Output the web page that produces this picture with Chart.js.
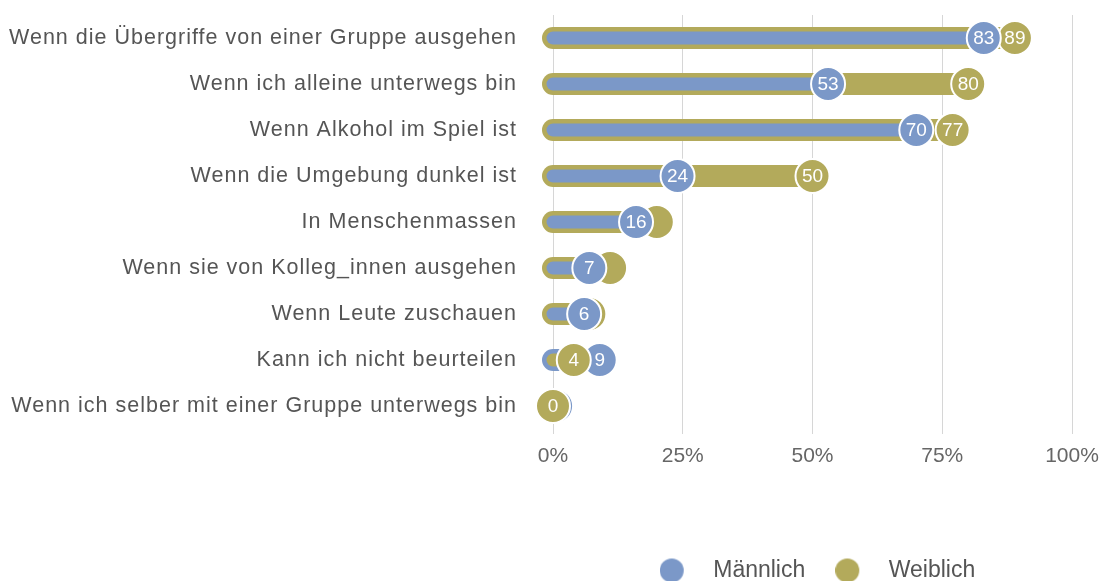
<!DOCTYPE html>
<html><head><meta charset="utf-8">
<script src="https://cdn.jsdelivr.net/npm/chart.js@4.4.1/dist/chart.umd.min.js"></script>
<style>html,body{margin:0;padding:0;background:#fff}#wrap{width:1111px;height:581px;position:relative}</style>
</head><body><div id="wrap"><canvas id="c"></canvas></div>
<script>
// ---- data ----
const categories = [
  'Wenn die Übergriffe von einer Gruppe ausgehen',
  'Wenn ich alleine unterwegs bin',
  'Wenn Alkohol im Spiel ist',
  'Wenn die Umgebung dunkel ist',
  'In Menschenmassen',
  'Wenn sie von Kolleg_innen ausgehen',
  'Wenn Leute zuschauen',
  'Kann ich nicht beurteilen',
  'Wenn ich selber mit einer Gruppe unterwegs bin'
];
const seriesNames = ['Männlich', 'Weiblich'];
const maleValues   = [83, 53, 70, 24, 16, 7, 6, 9, 0.6];
const femaleValues = [89, 80, 77, 50, 20, 11, 7, 4, 0];
const xTicks = [0, 25, 50, 75, 100];

// ---- styles ----
const COLORS = ['#7b98c8', '#b3aa5b'];
const FONT = "'Liberation Sans', Arial, Helvetica, sans-serif";

const series = [maleValues, femaleValues];
const rows = categories.map((cat, i) => {
  const longIdx = maleValues[i] > femaleValues[i] ? 0 : 1;
  const shortIdx = 1 - longIdx;
  return {cat, longIdx, shortIdx, long: series[longIdx][i], short: series[shortIdx][i]};
});

const datasets = [];
rows.forEach(r => {
  datasets.push({type: 'line', data: [{x: 0, y: r.cat}, {x: r.long, y: r.cat}],
    borderColor: COLORS[r.longIdx], borderWidth: 22, borderCapStyle: 'round',
    pointRadius: 0, order: 5, clip: false});
  datasets.push({type: 'line', data: [{x: 0, y: r.cat}, {x: r.short, y: r.cat}],
    borderColor: COLORS[r.shortIdx], borderWidth: 13, borderCapStyle: 'round',
    pointRadius: 0, order: 4, clip: false});
});
datasets.push({type: 'line', role: 'long', showLine: false,
  data: rows.map(r => ({x: r.long, y: r.cat})),
  pointBackgroundColor: rows.map(r => COLORS[r.longIdx]),
  pointBorderColor: '#fff', pointBorderWidth: 2, pointRadius: 17, order: 3, clip: false});
datasets.push({type: 'line', role: 'short', showLine: false,
  data: rows.map(r => ({x: r.short, y: r.cat})),
  pointBackgroundColor: rows.map(r => COLORS[r.shortIdx]),
  pointBorderColor: '#fff', pointBorderWidth: 2, pointRadius: 17, order: 2, clip: false});

function marker(color) {
  const c = document.createElement('canvas');
  c.width = 42; c.height = 26;
  const x = c.getContext('2d');
  x.fillStyle = color;
  x.beginPath(); x.arc(12, 13, 12, 0, Math.PI * 2); x.fill();
  return c;
}

const pointLabels = {
  id: 'pointLabels',
  afterDatasetDraw(chart, args) {
    const ds = chart.data.datasets[args.index];
    if (!ds.role) return;
    const ctx = chart.ctx;
    const xs = chart.scales.x;
    ctx.save();
    ctx.fillStyle = '#fff';
    ctx.font = '19px ' + FONT;
    ctx.textAlign = 'center';
    ctx.textBaseline = 'middle';
    args.meta.data.forEach((el, i) => {
      const r = rows[i];
      if (ds.role === 'long') {
        const d = xs.getPixelForValue(r.long) - xs.getPixelForValue(r.short);
        if (d < 23) return;
      }
      const v = ds.role === 'long' ? r.long : r.short;
      ctx.fillText(String(Math.round(v)), el.x, el.y + 1);
    });
    ctx.restore();
  }
};

const layoutTweaks = {
  id: 'layoutTweaks',
  afterLayout(chart) {
    const ca = chart.chartArea;
    // plot area top edge
    ca.top = 15; ca.height = ca.bottom - ca.top;
    const y = chart.scales.y;
    y.top = ca.top; y.height = y.bottom - y.top; y.configure();
    const lg = chart.legend;
    lg.left = ca.left + 5; lg.right = ca.right + 5; lg.width = lg.right - lg.left;
    lg.top += 11; lg.bottom += 11;
    if (!y._lsPatched) {
      const orig = y.drawLabels.bind(y);
      y.drawLabels = function(a) {
        const c = this.ctx; c.save(); c.letterSpacing = '1px'; orig(a); c.restore();
      };
      y._lsPatched = true;
    }
  }
};

new Chart(document.getElementById('c'), {
  type: 'line',
  data: {datasets},
  plugins: [pointLabels, layoutTweaks],
  options: {
    responsive: true, maintainAspectRatio: false, animation: false, events: [],
    layout: {padding: {top: 15, right: 39, left: 0, bottom: 0}},
    scales: {
      x: {type: 'linear', min: 0, max: 100,
        afterBuildTicks: s => { s.ticks = xTicks.map(v => ({value: v})); },
        afterFit: s => { s.height = 89; },
        grid: {color: '#d6d6d6', lineWidth: 1, tickLength: 5, drawTicks: true},
        border: {display: false},
        ticks: {font: {family: FONT, size: 21}, color: '#666', padding: 10, callback: v => v + '%'}},
      y: {type: 'category', labels: categories, offset: true,
        afterFit: s => { s.width = 553; s.paddingTop = 0; s.paddingBottom = 0; },
        grid: {display: false, drawTicks: false, tickLength: 0}, border: {display: false},
        ticks: {font: {family: FONT, size: 21.5}, color: '#555', padding: 36}}
    },
    plugins: {
      tooltip: {enabled: false},
      legend: {position: 'bottom', onClick: null,
        labels: {usePointStyle: true, pointStyleWidth: 42, padding: 30,
          font: {family: FONT, size: 23}, color: '#555',
          generateLabels: () => seriesNames.map((n, i) => ({text: n, pointStyle: marker(COLORS[i]),
            fillStyle: COLORS[i], strokeStyle: COLORS[i], lineWidth: 0, hidden: false, datasetIndex: i, fontColor: '#555'}))}}
    }
  }
});
</script></body></html>
